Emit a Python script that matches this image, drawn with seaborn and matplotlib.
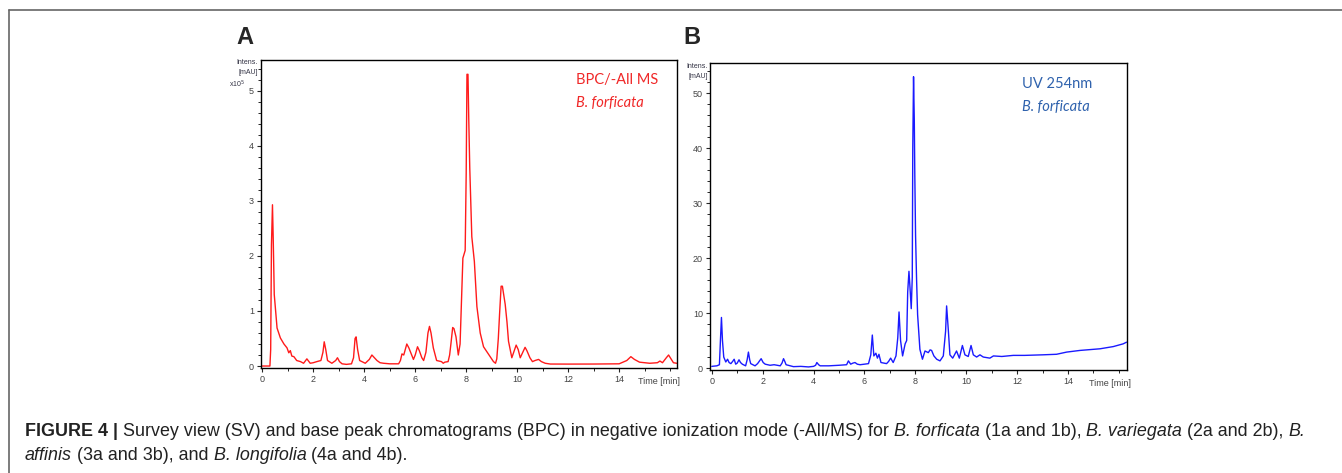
import numpy as np
import pandas as pd
import seaborn as sns
import matplotlib.pyplot as plt
from matplotlib.lines import Line2D
from matplotlib.ticker import MultipleLocator

# chromatogram A: BPC (-All MS), intensity x10^5
a_time = [0.0, 0.3, 0.33, 0.36, 0.40, 0.43, 0.47, 0.51, 0.58, 0.71, 0.85, 0.97, 1.04, 1.1, 1.16,
          1.24, 1.35, 1.5, 1.62, 1.75, 1.88, 2.0, 2.14, 2.3, 2.38, 2.43, 2.49, 2.56, 2.73, 2.88,
          2.95, 3.03, 3.13, 3.3, 3.5, 3.58, 3.64, 3.68, 3.74, 3.82, 3.95, 4.04, 4.2, 4.3, 4.4,
          4.5, 4.62, 4.76, 5.0, 5.35, 5.42, 5.48, 5.55, 5.67, 5.75, 5.86, 5.93, 6.0, 6.09, 6.16,
          6.26, 6.33, 6.42, 6.5, 6.56, 6.62, 6.71, 6.84, 7.03, 7.1, 7.16, 7.29, 7.35, 7.4, 7.47,
          7.52, 7.6, 7.69, 7.76, 7.83, 7.87, 7.96, 8.0, 8.03, 8.07, 8.1, 8.14, 8.22, 8.32, 8.42,
          8.55, 8.68, 8.75, 8.81, 8.94, 9.07, 9.15, 9.2, 9.26, 9.31, 9.37, 9.42, 9.47, 9.53, 9.6,
          9.66, 9.79, 9.9, 9.96, 10.04, 10.12, 10.22, 10.31, 10.38, 10.5, 10.6, 10.7, 10.84, 10.95,
          11.1, 11.3, 12.0, 13.0, 14.0, 14.1, 14.3, 14.46, 14.6, 14.8, 15.0, 15.2, 15.5, 15.6,
          15.7, 15.85, 15.94, 16.05, 16.13, 16.26]
a_intens = [0.0, 0.0, 0.3, 2.2, 2.93, 2.3, 1.3, 1.08, 0.69, 0.51, 0.4, 0.33, 0.24, 0.28, 0.18,
            0.17, 0.1, 0.08, 0.05, 0.13, 0.05, 0.06, 0.08, 0.1, 0.25, 0.44, 0.3, 0.1, 0.05, 0.1,
            0.15, 0.08, 0.04, 0.03, 0.04, 0.15, 0.5, 0.53, 0.3, 0.1, 0.07, 0.05, 0.12, 0.2, 0.15,
            0.1, 0.06, 0.05, 0.04, 0.04, 0.1, 0.22, 0.2, 0.4, 0.33, 0.2, 0.12, 0.2, 0.35, 0.28,
            0.15, 0.1, 0.25, 0.6, 0.72, 0.6, 0.33, 0.1, 0.08, 0.05, 0.07, 0.08, 0.2, 0.4, 0.7,
            0.68, 0.53, 0.2, 0.4, 1.38, 1.96, 2.1, 3.5, 5.3, 5.3, 4.5, 3.6, 2.35, 1.9, 1.08,
            0.6, 0.35, 0.3, 0.26, 0.17, 0.08, 0.05, 0.13, 0.5, 0.95, 1.45, 1.45, 1.3, 1.12, 0.8,
            0.45, 0.15, 0.3, 0.38, 0.3, 0.15, 0.25, 0.34, 0.28, 0.15, 0.08, 0.1, 0.12, 0.08,
            0.05, 0.036, 0.035, 0.036, 0.04, 0.06, 0.1, 0.17, 0.12, 0.07, 0.06, 0.05, 0.06, 0.09,
            0.06, 0.15, 0.2, 0.12, 0.06, 0.05]

# chromatogram B: UV 254 nm, mAU
b_time = [0.0, 0.2, 0.3, 0.34, 0.38, 0.42, 0.47, 0.55, 0.62, 0.68, 0.75, 0.82, 0.88, 0.94, 1.0,
          1.07, 1.13, 1.2, 1.33, 1.39, 1.44, 1.49, 1.53, 1.7, 1.8, 1.94, 2.02, 2.1, 2.29, 2.45,
          2.69, 2.76, 2.82, 2.87, 2.92, 3.21, 3.5, 3.8, 4.0, 4.08, 4.13, 4.2, 4.26, 4.6, 5.0,
          5.3, 5.37, 5.46, 5.55, 5.63, 5.72, 5.83, 6.0, 6.16, 6.25, 6.31, 6.37, 6.45, 6.51, 6.57,
          6.65, 6.87, 6.95, 7.03, 7.13, 7.24, 7.31, 7.36, 7.42, 7.5, 7.6, 7.66, 7.7, 7.75, 7.79,
          7.84, 7.88, 7.9, 7.93, 7.96, 7.98, 8.01, 8.05, 8.09, 8.18, 8.28, 8.38, 8.51, 8.58, 8.64,
          8.73, 8.84, 8.97, 9.1, 9.19, 9.23, 9.3, 9.36, 9.47, 9.62, 9.73, 9.85, 9.95, 10.08, 10.19,
          10.28, 10.41, 10.54, 10.67, 10.93, 11.07, 11.4, 11.85, 12.3, 13.0, 13.55, 13.95, 14.47,
          15.26, 15.78, 16.17, 16.3]
b_intens = [0.3, 0.4, 0.6, 5.0, 9.2, 5.0, 2.0, 1.1, 1.6, 1.0, 0.8, 1.2, 1.6, 0.7, 0.9,
            1.5, 1.0, 0.7, 0.4, 1.5, 2.9, 1.5, 0.8, 0.4, 0.8, 1.7, 1.0, 0.7, 0.5, 0.6,
            0.4, 0.9, 1.7, 1.2, 0.6, 0.25, 0.3, 0.2, 0.3, 0.5, 1.0, 0.6, 0.4, 0.4, 0.5,
            0.6, 1.3, 0.7, 0.9, 1.0, 0.7, 0.6, 0.7, 0.8, 2.4, 6.0, 2.2, 2.7, 1.8, 2.5,
            1.0, 0.8, 1.2, 1.8, 1.0, 2.2, 5.5, 10.2, 5.0, 2.2, 4.4, 5.0, 13.8, 17.6, 14.7,
            10.8, 16.5, 40.0, 53.0, 45.0, 35.0, 24.0, 16.0, 9.7, 3.4, 1.6, 3.1, 2.8, 3.3, 3.2,
            2.2, 1.6, 1.3, 2.2, 6.7, 11.3, 6.7, 2.4, 1.8, 3.1, 1.8, 4.1, 2.4, 2.1, 4.1,
            2.4, 2.0, 2.4, 2.0, 1.8, 2.2, 2.1, 2.3, 2.3, 2.4, 2.5, 2.9, 3.2,
            3.5, 3.9, 4.4, 4.7]

x_ticks = [0, 2, 4, 6, 8, 10, 12, 14]
caption_line1 = [("FIGURE 4 | ", "bold"), ("Survey view (SV) and base peak chromatograms (BPC) in negative ionization mode (-All/MS) for ", "normal"),
                 ("B. forficata", "italic"), (" (1a and 1b), ", "normal"), ("B. variegata", "italic"),
                 (" (2a and 2b), ", "normal"), ("B.", "italic")]
caption_line2 = [("affinis", "italic"), (" (3a and 3b), and ", "normal"), ("B. longifolia", "italic"),
                 (" (4a and 4b).", "normal")]

sns.set_style("ticks")
plt.rcParams['font.family'] = ['Liberation Sans', 'DejaVu Sans']

W, H = 1342, 473
fig = plt.figure(figsize=(W / 100, H / 100), dpi=100)


def px_box(left, top, right, bottom):
    return [left / W, 1 - bottom / H, (right - left) / W, (bottom - top) / H]


def style_axis(ax, ymajor, yminor):
    ax.xaxis.set_major_locator(MultipleLocator(2))
    ax.xaxis.set_minor_locator(MultipleLocator(1))
    ax.yaxis.set_major_locator(MultipleLocator(ymajor))
    ax.yaxis.set_minor_locator(MultipleLocator(yminor))
    ax.set_xticks(x_ticks)
    ax.set_xticklabels([str(t) for t in x_ticks])
    ax.tick_params(which="major", direction="out", length=3, width=0.8, labelsize=6.5,
                   labelcolor="#444444", pad=2)
    ax.tick_params(which="minor", direction="out", length=2, width=0.7)
    for s in ax.spines.values():
        s.set_visible(True)
        s.set_linewidth(1.0)
        s.set_color("black")
    ax.set_xlabel("")
    ax.set_ylabel("")


# panel A
axA = fig.add_axes(px_box(261, 60, 677, 368))
dfA = pd.DataFrame({"time": a_time, "intens": a_intens})
sns.lineplot(data=dfA, x="time", y="intens", ax=axA, color="#ff1a1a", linewidth=1.0,
             estimator=None, sort=False)
axA.set_xlim(-0.05, 16.27)
axA.set_ylim(-0.036, 5.56)
style_axis(axA, 1, 0.2)
axA.set_yticks([0, 1, 2, 3, 4, 5])
axA.set_yticklabels(["0", "1", "2", "3", "4", "5"])

# panel B
axB = fig.add_axes(px_box(710, 63, 1127, 370))
dfB = pd.DataFrame({"time": b_time, "intens": b_intens})
sns.lineplot(data=dfB, x="time", y="intens", ax=axB, color="#1a1aff", linewidth=1.0,
             estimator=None, sort=False)
axB.set_xlim(-0.07, 16.32)
axB.set_ylim(-0.36, 55.5)
style_axis(axB, 10, 2)
axB.set_yticks([0, 10, 20, 30, 40, 50])
axB.set_yticklabels(["0", "10", "20", "30", "40", "50"])

# axis annotations in the instrument style
lab = dict(fontsize=5, color="#333344", ha="right", va="center")
fig.text(258 / W, 1 - 63 / H, "Intens.", **lab)
fig.text(258 / W, 1 - 73 / H, "[mAU]", **lab)
fig.text(245 / W, 1 - 84 / H, "x10$^5$", **lab)
fig.text(708 / W, 1 - 66 / H, "Intens.", **lab)
fig.text(708 / W, 1 - 76 / H, "[mAU]", **lab)
fig.text(659 / W, 1 - 381 / H, "Time [min]", fontsize=6.5, color="#444444", ha="center", va="center")
fig.text(1110 / W, 1 - 383 / H, "Time [min]", fontsize=6.5, color="#444444", ha="center", va="center")

# panel letters
fig.text(245 / W, 1 - 38 / H, "A", fontsize=17, fontweight="bold", ha="center", va="center")
fig.text(692 / W, 1 - 38 / H, "B", fontsize=17, fontweight="bold", ha="center", va="center")

# in-plot labels
fig.text(576 / W, 1 - 80 / H, "BPC/-All MS", fontsize=10.5, color="#f02828", family="Lato", va="center")
fig.text(576 / W, 1 - 103 / H, "B. forficata", fontsize=10.5, color="#f02828", family="Lato",
         style="italic", va="center")
fig.text(1022 / W, 1 - 84 / H, "UV 254nm", fontsize=10.5, color="#2f62ad", family="Lato", va="center")
fig.text(1022 / W, 1 - 107 / H, "B. forficata", fontsize=10.5, color="#2f62ad", family="Lato",
         style="italic", va="center")

# frame lines of the figure box
fig.add_artist(Line2D([9 / W, 1.0], [1 - 10 / H, 1 - 10 / H], transform=fig.transFigure,
                      color="#666666", linewidth=1.2))
fig.add_artist(Line2D([9 / W, 9 / W], [1 - 10 / H, 0.0], transform=fig.transFigure,
                      color="#666666", linewidth=1.2))

# caption with mixed styles, laid out run by run
renderer = fig.canvas.get_renderer()
cap_font = ['Liberation Sans Narrow', 'Liberation Sans', 'DejaVu Sans']


def draw_runs(runs, x0, y, size):
    x = x0
    for txt, st in runs:
        kw = dict(fontsize=size, family=cap_font, va="center", ha="left", color="#222222")
        if st == "bold":
            kw["fontweight"] = "bold"
        elif st == "italic":
            kw["style"] = "italic"
        t = fig.text(x / W, 1 - y / H, txt, **kw)
        bb = t.get_window_extent(renderer)
        x += bb.width
    return x


# measure first line to fit the reference width
probe = fig.text(0, 0, "".join(r[0] for r in caption_line1), fontsize=10, family=cap_font)
w = probe.get_window_extent(renderer).width
probe.remove()
cap_size = 10 * 1280 / w
draw_runs(caption_line1, 25, 431, cap_size)
draw_runs(caption_line2, 25, 455, cap_size)

fig.savefig("out.png", dpi=100)
